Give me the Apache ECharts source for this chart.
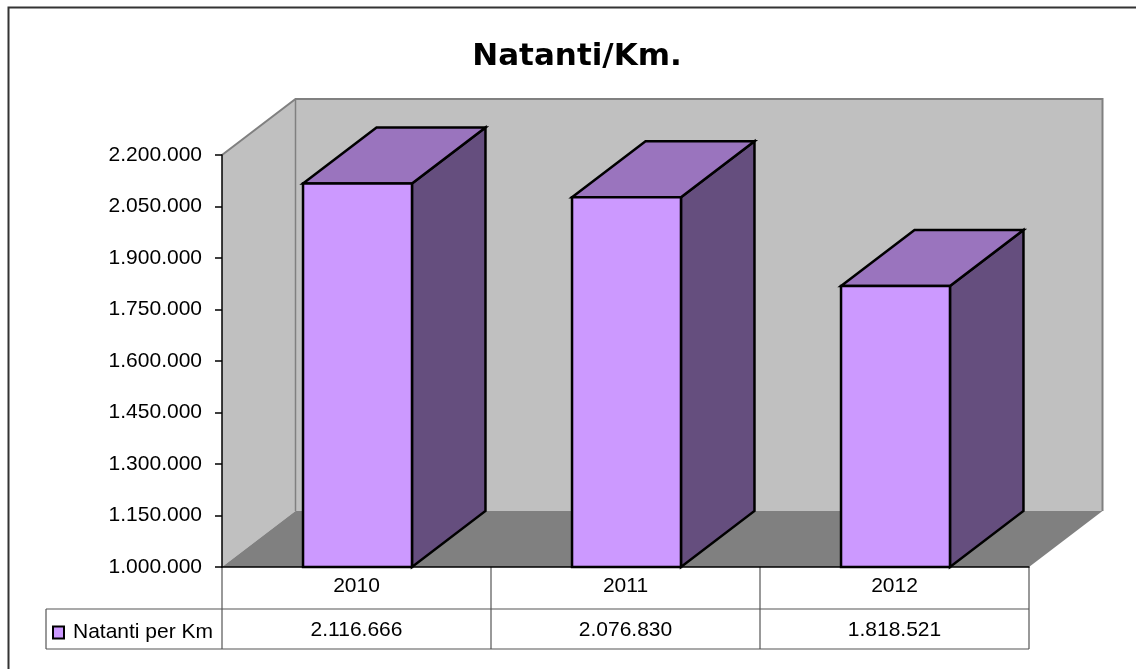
<!DOCTYPE html>
<html>
<head>
<meta charset="utf-8">
<style>
  html, body { margin: 0; padding: 0; background: #ffffff; }
  #chart { width: 1136px; height: 669px; }
</style>
<script src="https://cdn.jsdelivr.net/npm/echarts@6/dist/echarts.min.js"></script>
</head>
<body>
<div id="chart"></div>
<script>
// ---- data ----
const categories = ['2010', '2011', '2012'];
const seriesName = 'Natanti per Km';
const values = [2116666, 2076830, 1818521];
const yMin = 1000000;
const yMax = 2200000;
const yStep = 150000;
const titleText = 'Natanti/Km.';

// ---- style constants ----
const DX = 73.5, DY = -56;              // 3D depth offset
const FRONT = '#CC99FF', TOP = '#9A74BE', SIDE = '#654E7E';
const WALL = '#C0C0C0', FLOOR = '#808080', EDGE = '#808080';
const FONT = '"Liberation Sans", Arial, sans-serif';

function fmt(v) {
  return String(Math.round(v)).replace(/\B(?=(\d{3})+(?!\d))/g, '.');
}

const chart = echarts.init(document.getElementById('chart'), null, { renderer: 'canvas' });

const option = {
  animation: false,
  backgroundColor: '#ffffff',
  title: {
    text: titleText,
    left: 572,
    textAlign: 'center',
    top: 36,
    textStyle: { fontFamily: '"DejaVu Sans", sans-serif', fontWeight: 'bold', fontSize: 31, color: '#000' }
  },
  legend: {
    data: [{ name: seriesName, icon: 'rect' }],
    left: 52,
    top: 622,
    padding: 0,
    itemWidth: 11,
    itemHeight: 12,
    selectedMode: false,
    itemStyle: { color: FRONT, borderColor: '#000', borderWidth: 2 },
    textStyle: { fontFamily: FONT, fontSize: 21, color: '#000', padding: [2, 0, 0, 4] }
  },
  graphic: [
    {
      type: 'polyline',
      shape: { points: [[8.5, 669], [8.5, 7.5], [1136, 7.5]] },
      style: { stroke: '#333333', lineWidth: 2, fill: null },
      silent: true
    }
  ],
  grid: { left: 222, top: 155, right: 107, bottom: 102, containLabel: false },
  xAxis: {
    type: 'category',
    data: categories,
    z: 5,
    axisLine: { show: true, lineStyle: { color: '#000', width: 1.5 } },
    axisTick: { show: false },
    axisLabel: { margin: 9, fontFamily: FONT, fontSize: 21, color: '#000' },
    splitLine: { show: false }
  },
  yAxis: {
    type: 'value',
    min: yMin,
    max: yMax,
    interval: yStep,
    z: 5,
    axisLine: { show: true, lineStyle: { color: '#000', width: 1.5 } },
    axisTick: { show: true, length: 7, lineStyle: { color: '#000', width: 1.5 } },
    axisLabel: { margin: 20, fontFamily: FONT, fontSize: 21, color: '#000', formatter: fmt },
    splitLine: { show: false }
  },
  series: [
    {
      // walls, floor and data table
      type: 'custom',
      name: 'frame',
      z: 1,
      silent: true,
      clip: false,
      data: categories.map((c, i) => [i, values[i]]),
      renderItem: function (params, api) {
        const cs = params.coordSys;
        const L = cs.x, T = cs.y, R = cs.x + cs.width, B = cs.y + cs.height;
        const children = [];
        const idx = params.dataIndex;
        const cx = api.coord([api.value(0), yMin])[0];
        if (idx === 0) {
          // back wall
          children.push({ type: 'rect', shape: { x: L + DX, y: T + DY, width: R - L, height: B - T },
            style: { fill: WALL, stroke: null } });
          // left wall
          children.push({ type: 'polygon', shape: { points: [[L, T], [L + DX, T + DY], [L + DX, B + DY], [L, B]] },
            style: { fill: WALL, stroke: null } });
          // floor
          children.push({ type: 'polygon', shape: { points: [[L, B], [R, B], [R + DX, B + DY], [L + DX, B + DY]] },
            style: { fill: FLOOR, stroke: null } });
          // wall edges
          children.push({ type: 'polyline', shape: { points: [[L, T], [L + DX, T + DY], [R + DX, T + DY], [R + DX, B + DY]] },
            style: { stroke: EDGE, lineWidth: 2, fill: null } });
          children.push({ type: 'line', shape: { x1: L + DX, y1: T + DY, x2: L + DX, y2: B + DY },
            style: { stroke: EDGE, lineWidth: 1.5 } });
          // data table lines
          const r1 = B + 42, r2 = B + 82, tl = 46;
          const lc = '#555555';
          children.push({ type: 'line', shape: { x1: tl, y1: r1, x2: R, y2: r1 }, style: { stroke: lc, lineWidth: 1.2 } });
          children.push({ type: 'line', shape: { x1: tl, y1: r2, x2: R, y2: r2 }, style: { stroke: lc, lineWidth: 1.2 } });
          children.push({ type: 'line', shape: { x1: tl, y1: r1, x2: tl, y2: r2 }, style: { stroke: lc, lineWidth: 1.2 } });
          const bw = cs.width / categories.length;
          for (let k = 0; k <= categories.length; k++) {
            const x = L + bw * k;
            children.push({ type: 'line', shape: { x1: x, y1: B, x2: x, y2: r2 }, style: { stroke: lc, lineWidth: 1.2 } });
          }
        }
        // value text in data table
        children.push({ type: 'text', x: cx, y: B + 63,
          style: { text: fmt(api.value(1)), fill: '#000', font: '21px ' + FONT, align: 'center', verticalAlign: 'middle' } });
        return { type: 'group', children: children };
      }
    },
    {
      type: 'custom',
      name: seriesName,
      z: 3,
      clip: false,
      itemStyle: { color: FRONT },
      data: categories.map((c, i) => [i, values[i]]),
      renderItem: function (params, api) {
        const i = api.value(0), v = api.value(1);
        const base = api.coord([i, yMin]);
        const top = api.coord([i, v]);
        const bw = api.size([1, 0])[0];
        const w = bw * 0.405;
        const x0 = base[0] - w / 2 + 1, x1 = x0 + w;
        const yb = base[1], yt = top[1];
        const st = { stroke: '#000', lineWidth: 2.5, lineJoin: 'miter' };
        return {
          type: 'group',
          children: [
            { type: 'polygon', shape: { points: [[x1, yt], [x1 + DX, yt + DY], [x1 + DX, yb + DY], [x1, yb]] },
              style: Object.assign({ fill: SIDE }, st) },
            { type: 'polygon', shape: { points: [[x0, yt], [x0 + DX, yt + DY], [x1 + DX, yt + DY], [x1, yt]] },
              style: Object.assign({ fill: TOP }, st) },
            { type: 'rect', shape: { x: x0, y: yt, width: w, height: yb - yt },
              style: Object.assign({ fill: FRONT }, st) }
          ]
        };
      }
    }
  ]
};

chart.setOption(option);
</script>
</body>
</html>
